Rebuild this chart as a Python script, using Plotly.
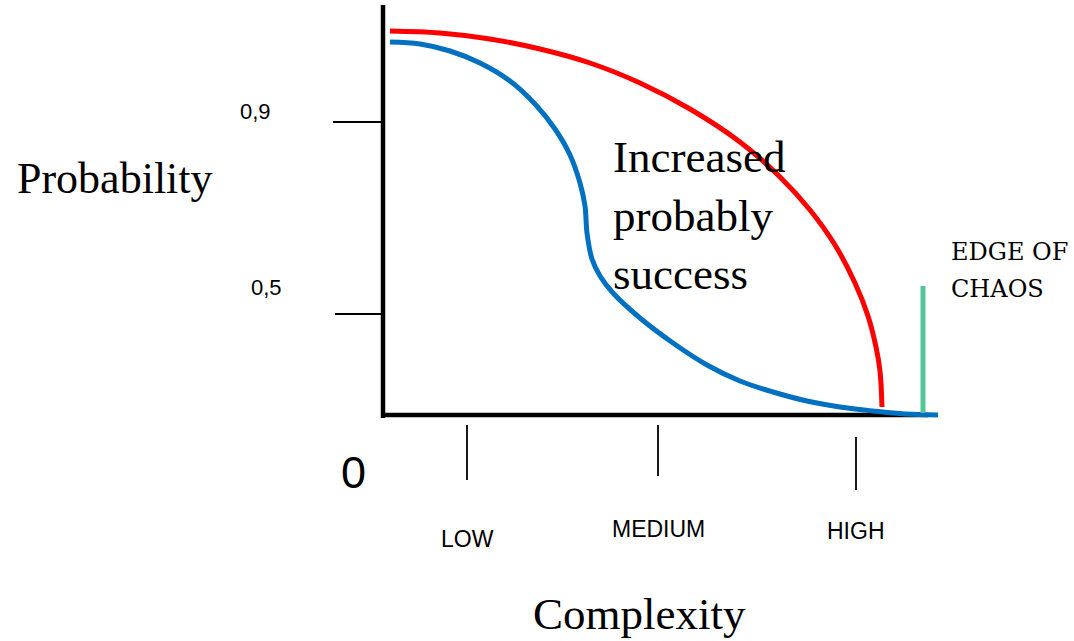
import plotly.graph_objects as go

# ---------------- data (x = complexity, y = probability, arbitrary units) ----
red_x = [7, 57, 107, 157, 207, 257, 307, 357, 397, 427, 452, 472, 485, 493, 497, 499]
red_y = [384, 382, 376, 366, 352, 332, 306, 273, 238, 205, 170, 132, 99, 68, 44, 8]

blue_x = [7, 37, 67, 97, 127, 152, 172, 187, 197, 202, 204, 209, 217, 230, 257, 290, 324, 357, 390, 424, 457, 490, 522, 555]
blue_y = [373, 371, 364, 352, 334, 311, 286, 260, 232, 209, 182, 156, 139, 122, 97, 72, 50, 34, 23, 14, 8, 4, 1, 0]

edge_x = [540, 540]
edge_y = [2, 129]

x_tick_vals = [84, 275, 473]
x_tick_text = ["LOW", "MEDIUM", "HIGH"]
y_tick_vals = [101, 293]
y_tick_text = ["0,5", "0,9"]

x_axis_end = 545
y_axis_end = 410

# ---------------- styling / placement constants ----------------
W, H = 1074, 641
ORIGIN_PX, ORIGIN_PY = 383, 415
x_range = [-ORIGIN_PX, W - ORIGIN_PX]
y_range = [ORIGIN_PY - H, ORIGIN_PY]

SERIF = "Liberation Serif, Times New Roman, serif"
SANS = "Liberation Sans, Arial, sans-serif"
SLAB = "DejaVu Serif, serif"

x_tick_spans = [(-10, -65), (-10, -61), (-22, -75)]
x_label_y = [-124, -114, -116]
y_tick_len = [48, 50]
y_label_pos = [(-117, 128), (-128, 304)]

fig = go.Figure()

fig.add_trace(go.Scatter(x=red_x, y=red_y, mode="lines",
                         line=dict(color="#FF0000", width=5, shape="spline", smoothing=1.0),
                         hoverinfo="skip", showlegend=False))
fig.add_trace(go.Scatter(x=blue_x, y=blue_y, mode="lines",
                         line=dict(color="#0070C0", width=5, shape="spline", smoothing=1.0),
                         hoverinfo="skip", showlegend=False))
fig.add_trace(go.Scatter(x=edge_x, y=edge_y, mode="lines",
                         line=dict(color="#52C59B", width=5),
                         hoverinfo="skip", showlegend=False))

shapes = []
# axis lines
shapes.append(dict(type="line", xref="x", yref="y", x0=0, x1=0, y0=-3, y1=y_axis_end,
                   line=dict(color="black", width=4.5), layer="below"))
shapes.append(dict(type="line", xref="x", yref="y", x0=-2, x1=x_axis_end, y0=0, y1=0,
                   line=dict(color="black", width=4.5), layer="below"))
# x ticks (detached below the axis)
for xv, (y0, y1) in zip(x_tick_vals, x_tick_spans):
    shapes.append(dict(type="line", xref="x", yref="y", x0=xv, x1=xv, y0=y0, y1=y1,
                       line=dict(color="black", width=1.8)))
# y ticks
for yv, ln in zip(y_tick_vals, y_tick_len):
    shapes.append(dict(type="line", xref="x", yref="y", x0=-ln, x1=0, y0=yv, y1=yv,
                       line=dict(color="black", width=1.8)))

annotations = []
for xv, txt, ly in zip(x_tick_vals, x_tick_text, x_label_y):
    annotations.append(dict(x=xv, y=ly, text=txt, showarrow=False, xanchor="center", yanchor="middle",
                            font=dict(family=SANS, size=23, color="black")))
for txt, (lx, ly) in zip(y_tick_text, y_label_pos):
    annotations.append(dict(x=lx, y=ly, text=txt, showarrow=False, xanchor="center", yanchor="middle",
                            font=dict(family=SANS, size=22, color="black")))
annotations.append(dict(x=-30, y=-57, text="0", showarrow=False, xanchor="center", yanchor="middle",
                        font=dict(family=SANS, size=45, color="black")))
annotations.append(dict(x=-268, y=237, text="Probability", showarrow=False, xanchor="center", yanchor="middle",
                        font=dict(family=SERIF, size=44, color="black")))
annotations.append(dict(x=256, y=-199, text="Complexity", showarrow=False, xanchor="center", yanchor="middle",
                        font=dict(family=SERIF, size=45, color="black")))
annotations.append(dict(x=228, y=200, text="Increased<br>probably<br>success", showarrow=False,
                        xanchor="left", yanchor="middle", align="left",
                        font=dict(family=SERIF, size=45, color="black")))
annotations.append(dict(x=566, y=163, text="EDGE OF", showarrow=False, xanchor="left", yanchor="middle",
                        font=dict(family=SLAB, size=24, color="black")))
annotations.append(dict(x=566, y=126, text="CHAOS", showarrow=False, xanchor="left", yanchor="middle",
                        font=dict(family=SLAB, size=24, color="black")))

fig.update_layout(
    width=W, height=H,
    margin=dict(l=0, r=0, t=0, b=0, pad=0),
    paper_bgcolor="white", plot_bgcolor="white",
    xaxis=dict(range=x_range, visible=False, fixedrange=True),
    yaxis=dict(range=y_range, visible=False, fixedrange=True),
    shapes=shapes, annotations=annotations,
    showlegend=False,
)

fig.write_html("out.html", config={"displayModeBar": False},
               post_script="document.body.style.margin='0';document.body.style.overflow='hidden';")
